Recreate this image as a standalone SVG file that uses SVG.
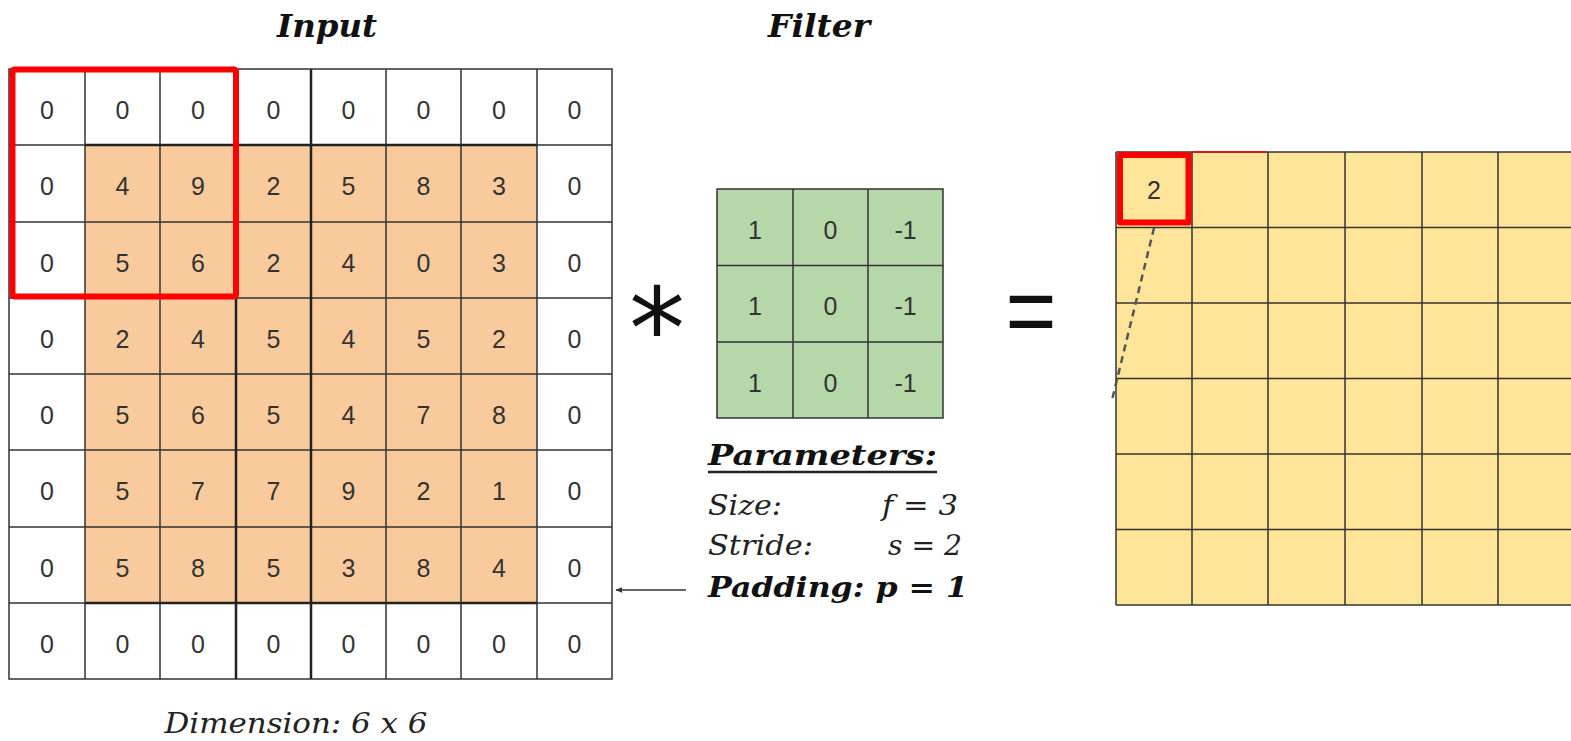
<svg xmlns="http://www.w3.org/2000/svg" width="1571" height="741" viewBox="0 0 1571 741">
<style>
.num{font-family:"Liberation Sans",Arial,sans-serif;font-size:25px;fill:#333;text-anchor:middle}
.title{font-family:"DejaVu Serif",Georgia,serif;font-weight:bold;font-style:italic;font-size:32px;fill:#111}
.param{font-family:"DejaVu Serif",Georgia,serif;font-style:italic;font-size:27px;fill:#222}
.bparam{font-family:"DejaVu Serif",Georgia,serif;font-style:italic;font-weight:bold;font-size:28px;fill:#111}
.grid{stroke:#333;stroke-width:1.5;fill:none}
.thick{stroke:#222;stroke-width:2.5}
.red{fill:none;stroke:#ff0000;stroke-width:6;stroke-linejoin:round}
</style>
<defs>
<marker id="ah" viewBox="0 0 10 10" refX="9" refY="5" markerWidth="7" markerHeight="7" orient="auto" markerUnits="userSpaceOnUse">
<path d="M0,1 L10,5 L0,9 z" fill="#333"/>
</marker>
</defs>
<rect width="1571" height="741" fill="#fff"/>

<g id="input">
<text class="title" x="327" y="37" text-anchor="middle" textLength="100" lengthAdjust="spacingAndGlyphs">Input</text>
<rect x="9" y="69" width="603" height="610" fill="#fff"/>
<rect x="85" y="145" width="452" height="458" fill="#f9cb9c"/>
<g class="grid">
<path d="M9,69H612V679H9Z"/>
<path d="M9,145H612M9,222H612M9,298H612M9,374H612M9,450H612M9,527H612M9,603H612"/>
<path d="M85,69V679M160,69V679M386,69V679M461,69V679M537,69V679"/>
</g>
<path class="thick" d="M236,69V679M311,69V679M85,145H537M85,603H537"/>
<g>
<text class="num" x="47" y="119">0</text><text class="num" x="122.5" y="119">0</text><text class="num" x="198" y="119">0</text><text class="num" x="273.5" y="119">0</text><text class="num" x="348.5" y="119">0</text><text class="num" x="423.5" y="119">0</text><text class="num" x="499" y="119">0</text><text class="num" x="574.5" y="119">0</text>
<text class="num" x="47" y="195">0</text><text class="num" x="122.5" y="195">4</text><text class="num" x="198" y="195">9</text><text class="num" x="273.5" y="195">2</text><text class="num" x="348.5" y="195">5</text><text class="num" x="423.5" y="195">8</text><text class="num" x="499" y="195">3</text><text class="num" x="574.5" y="195">0</text>
<text class="num" x="47" y="272">0</text><text class="num" x="122.5" y="272">5</text><text class="num" x="198" y="272">6</text><text class="num" x="273.5" y="272">2</text><text class="num" x="348.5" y="272">4</text><text class="num" x="423.5" y="272">0</text><text class="num" x="499" y="272">3</text><text class="num" x="574.5" y="272">0</text>
<text class="num" x="47" y="348">0</text><text class="num" x="122.5" y="348">2</text><text class="num" x="198" y="348">4</text><text class="num" x="273.5" y="348">5</text><text class="num" x="348.5" y="348">4</text><text class="num" x="423.5" y="348">5</text><text class="num" x="499" y="348">2</text><text class="num" x="574.5" y="348">0</text>
<text class="num" x="47" y="424">0</text><text class="num" x="122.5" y="424">5</text><text class="num" x="198" y="424">6</text><text class="num" x="273.5" y="424">5</text><text class="num" x="348.5" y="424">4</text><text class="num" x="423.5" y="424">7</text><text class="num" x="499" y="424">8</text><text class="num" x="574.5" y="424">0</text>
<text class="num" x="47" y="500">0</text><text class="num" x="122.5" y="500">5</text><text class="num" x="198" y="500">7</text><text class="num" x="273.5" y="500">7</text><text class="num" x="348.5" y="500">9</text><text class="num" x="423.5" y="500">2</text><text class="num" x="499" y="500">1</text><text class="num" x="574.5" y="500">0</text>
<text class="num" x="47" y="577">0</text><text class="num" x="122.5" y="577">5</text><text class="num" x="198" y="577">8</text><text class="num" x="273.5" y="577">5</text><text class="num" x="348.5" y="577">3</text><text class="num" x="423.5" y="577">8</text><text class="num" x="499" y="577">4</text><text class="num" x="574.5" y="577">0</text>
<text class="num" x="47" y="653">0</text><text class="num" x="122.5" y="653">0</text><text class="num" x="198" y="653">0</text><text class="num" x="273.5" y="653">0</text><text class="num" x="348.5" y="653">0</text><text class="num" x="423.5" y="653">0</text><text class="num" x="499" y="653">0</text><text class="num" x="574.5" y="653">0</text>
</g>
<rect class="red" x="12.5" y="69.5" width="223.5" height="227" rx="2"/>
<text class="param" x="296" y="733" text-anchor="middle" font-size="30" textLength="263" lengthAdjust="spacingAndGlyphs">Dimension: 6 x 6</text>
</g>

<g id="operator-star">
<text x="657" y="368" font-family="DejaVu Sans,sans-serif" font-size="112" fill="#111" text-anchor="middle">*</text>
</g>

<g id="filter">
<text class="title" x="819" y="37" text-anchor="middle" textLength="102" lengthAdjust="spacingAndGlyphs">Filter</text>
<rect x="717" y="189" width="226" height="229" fill="#b6d7a8"/>
<g class="grid">
<path d="M717,189H943V418H717Z"/>
<path d="M717,265.5H943M717,342H943M793,189V418M868,189V418"/>
</g>
<text class="num" x="755" y="239">1</text><text class="num" x="830.5" y="239">0</text><text class="num" x="905.5" y="239">-1</text>
<text class="num" x="755" y="315">1</text><text class="num" x="830.5" y="315">0</text><text class="num" x="905.5" y="315">-1</text>
<text class="num" x="755" y="392">1</text><text class="num" x="830.5" y="392">0</text><text class="num" x="905.5" y="392">-1</text>
</g>

<g id="parameters">
<text class="bparam" x="708" y="465" textLength="229" lengthAdjust="spacingAndGlyphs">Parameters:</text>
<line x1="708" y1="472" x2="937" y2="472" stroke="#222" stroke-width="2.5"/>
<text class="param" x="708" y="515" textLength="74" lengthAdjust="spacingAndGlyphs">Size:</text>
<text class="param" x="882" y="515" textLength="76" lengthAdjust="spacingAndGlyphs">f = 3</text>
<text class="param" x="708" y="555" textLength="105" lengthAdjust="spacingAndGlyphs">Stride:</text>
<text class="param" x="888" y="555" textLength="74" lengthAdjust="spacingAndGlyphs">s = 2</text>
<text class="bparam" x="708" y="597" textLength="260" lengthAdjust="spacingAndGlyphs">Padding: p = 1</text>
</g>

<g id="operator-equals">
<text x="1031" y="345" font-family="Liberation Sans,Arial,sans-serif" font-size="100" fill="#111" text-anchor="middle" textLength="51" lengthAdjust="spacingAndGlyphs">=</text>
</g>

<g id="output">
<rect x="1116" y="152" width="460" height="453" fill="#ffe599"/>
<g class="grid">
<path d="M1116,152H1575M1116,605H1575M1116,152V605"/>
<path d="M1116,227.5H1575M1116,303H1575M1116,378.5H1575M1116,454H1575M1116,529.5H1575"/>
<path d="M1192,152V605M1268,152V605M1345,152V605M1422,152V605M1498,152V605"/>
</g>
<line x1="1192" y1="152" x2="1266" y2="152" stroke="#ff0000" stroke-width="1.5"/>
<rect class="red" x="1120" y="155" width="68.5" height="67.5"/>
<text class="num" x="1154" y="199">2</text>
</g>

<g id="connectors">
<line x1="686" y1="590" x2="616" y2="590" stroke="#333" stroke-width="1.5" marker-end="url(#ah)"/>
<line x1="1154" y1="228" x2="1112" y2="400" stroke="#555" stroke-width="2.5" stroke-dasharray="7 5"/>
</g>
</svg>
